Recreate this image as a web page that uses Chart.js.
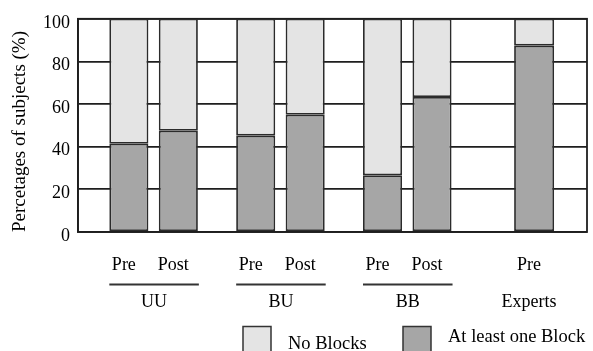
<!DOCTYPE html>
<html>
<head>
<meta charset="utf-8">
<script src="https://cdn.jsdelivr.net/npm/chart.js@4"></script>
<style>
  html, body { margin: 0; padding: 0; background: #fff; }
  canvas { display: block; }
</style>
</head>
<body>
<canvas id="grafico" width="593" height="351"></canvas>
<script>
// groups on the x axis
const groups = ['UU', 'BU', 'BB', 'Experts'];
// % of subjects with at least one block / no blocks
const atLeastPre = [41.4, 45.2, 26.6, 87.4];
const noBlocksPre = [58.6, 54.8, 73.4, 12.6];
const atLeastPost = [47.5, 55.0, 63.3, null];
const noBlocksPost = [52.5, 45.0, 36.7, null];
const yTicks = [0, 20, 40, 60, 80, 100];

const FONT = "'Liberation Serif', 'Times New Roman', serif";
const DARK = '#1e1e1e';
const LIGHT_FILL = '#e4e4e4';
const DARK_FILL = '#a6a6a6';

function pontos(valores) {
  return valores.map((v, i) => ({ x: i, y: v }));
}

function barra(label, valores, cor, stack) {
  return {
    label: label,
    data: pontos(valores),
    backgroundColor: cor,
    borderColor: '#2b2b2b',
    borderWidth: 1.8,
    borderSkipped: false,
    stack: stack
  };
}

// moldura à volta da área do gráfico
const moldura = {
  id: 'moldura',
  beforeDatasetsDraw(chart) {
    const a = chart.chartArea;
    const ctx = chart.ctx;
    ctx.save();
    ctx.strokeStyle = DARK;
    ctx.lineWidth = 1.8;
    ctx.strokeRect(a.left, a.top, a.right - a.left, a.bottom - a.top);
    ctx.restore();
  }
};

// rótulos Pre/Post, sublinhados e nomes dos grupos
const rotulos = {
  id: 'rotulos',
  afterDraw(chart) {
    const ctx = chart.ctx;
    const pre = chart.getDatasetMeta(0).data;
    const post = chart.getDatasetMeta(2).data;
    ctx.save();
    ctx.fillStyle = '#000';
    ctx.font = '18px ' + FONT;
    ctx.textAlign = 'center';
    ctx.textBaseline = 'alphabetic';
    ctx.strokeStyle = '#333';
    ctx.lineWidth = 2;
    groups.forEach((g, i) => {
      const bp = pre[i];
      const bq = post[i];
      ctx.fillText('Pre', bp.x - 5, 270);
      if (atLeastPost[i] !== null) {
        ctx.fillText('Post', bq.x - 5, 270);
        const x0 = bp.x - bp.width / 2;
        const x1 = bq.x + bq.width / 2 + 1;
        ctx.beginPath();
        ctx.moveTo(x0, 284.5);
        ctx.lineTo(x1, 284.5);
        ctx.stroke();
        ctx.fillText(g, (x0 + x1) / 2, 307);
      } else {
        ctx.fillText(g, bp.x - 5, 307);
      }
    });

    // legenda
    const itens = [
      { texto: 'No Blocks', cor: LIGHT_FILL, caixa: 243, tx: 288, base: 349 },
      { texto: 'At least one Block', cor: DARK_FILL, caixa: 403, tx: 448, base: 342 }
    ];
    ctx.textAlign = 'left';
    ctx.font = '18.5px ' + FONT;
    itens.forEach(it => {
      ctx.fillStyle = it.cor;
      ctx.fillRect(it.caixa, 326.5, 28, 30);
      ctx.strokeStyle = '#333';
      ctx.lineWidth = 1.5;
      ctx.strokeRect(it.caixa, 326.5, 28, 30);
      ctx.fillStyle = '#000';
      ctx.fillText(it.texto, it.tx, it.base);
    });
    ctx.restore();
  }
};

const ctx = document.getElementById('grafico').getContext('2d');
new Chart(ctx, {
  type: 'bar',
  data: {
    datasets: [
      barra('At least one Block', atLeastPre, DARK_FILL, 'pre'),
      barra('No Blocks', noBlocksPre, LIGHT_FILL, 'pre'),
      barra('At least one Block', atLeastPost, DARK_FILL, 'post'),
      barra('No Blocks', noBlocksPost, LIGHT_FILL, 'post')
    ]
  },
  options: {
    responsive: false,
    animation: false,
    skipNull: true,
    categoryPercentage: 0.78,
    barPercentage: 0.79,
    maxBarThickness: 40,
    layout: { padding: { top: 16, right: 6, bottom: 119, left: 0 } },
    plugins: {
      legend: { display: false },
      tooltip: { enabled: false }
    },
    scales: {
      x: {
        type: 'linear',
        display: false,
        offset: false,
        min: -0.596,
        max: 3.417,
        ticks: { stepSize: 1, includeBounds: false }
      },
      y: {
        stacked: true,
        min: 0,
        max: 100,
        afterFit: (scale) => { scale.width = 78; },
        afterBuildTicks: (scale) => { scale.ticks = yTicks.map(v => ({ value: v })); },
        grid: { color: DARK, lineWidth: 1.8, drawTicks: false },
        border: { display: true, color: DARK, width: 1.8 },
        ticks: {
          color: '#000',
          padding: 8,
          labelOffset: 4,
          font: { family: FONT, size: 18 }
        },
        title: {
          display: true,
          text: 'Percetages of subjects (%)',
          align: 'start',
          color: '#000',
          padding: { top: 9, bottom: 0 },
          font: { family: FONT, size: 19 }
        }
      }
    }
  },
  plugins: [moldura, rotulos]
});
</script>
</body>
</html>
